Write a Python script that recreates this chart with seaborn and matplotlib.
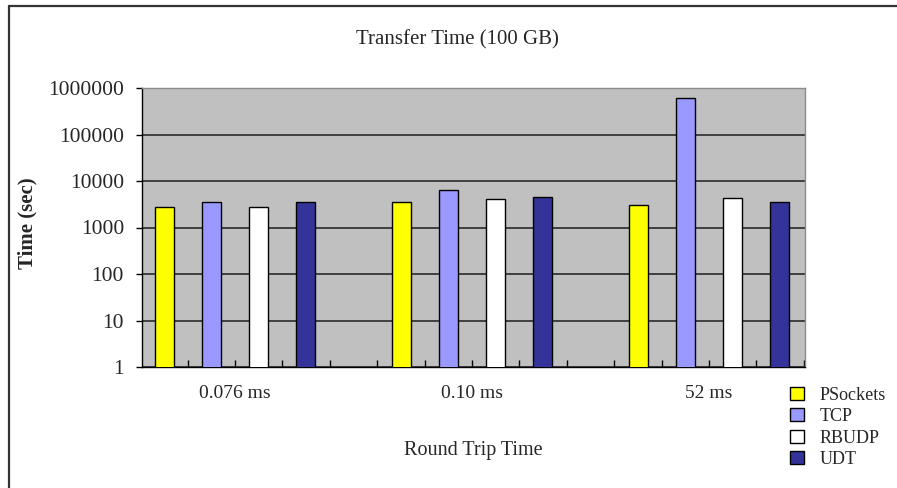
import matplotlib
matplotlib.use("Agg")
import matplotlib.pyplot as plt
from matplotlib.lines import Line2D
import seaborn as sns
import pandas as pd
import numpy as np

rtt = ["0.076 ms", "0.10 ms", "52 ms"]
protocols = ["PSockets", "TCP", "RBUDP", "UDT"]
psockets = [2700, 3600, 3050]
tcp = [3600, 6400, 600000]
rbudp = [2700, 4200, 4250]
udt = [3600, 4450, 3600]
colors = ["#FFFF00", "#9999FF", "#FFFFFF", "#333399"]
yticks = [1, 10, 100, 1000, 10000, 100000, 1000000]

rows = []
for name, vals in zip(protocols, [psockets, tcp, rbudp, udt]):
    for r, v in zip(rtt, vals):
        rows.append({"RTT": r, "Protocol": name, "Time": v})
df = pd.DataFrame(rows)

sns.set_style("white")
plt.rcParams["font.family"] = ["Liberation Serif", "DejaVu Serif"]

W, H = 897, 488
fig = plt.figure(figsize=(W / 100, H / 100), dpi=100)
ax = fig.add_axes([142 / W, 1 - 367 / H, 663 / W, 279 / H])
ax.set_facecolor("#C0C0C0")

sns.barplot(data=df, x="RTT", y="Time", hue="Protocol", order=rtt,
            hue_order=protocols, palette=colors, width=0.793, gap=0.6,
            edgecolor="black", linewidth=1.0, saturation=1, ax=ax,
            legend=False, zorder=3)
ax.set_yscale("log")
ax.set_ylim(1, 1e6)
ax.set_xlim(-0.392, 2.405)

ax.set_yticks(yticks)
ax.set_yticklabels([str(t) for t in yticks], fontsize=15.5)
ax.yaxis.set_minor_locator(matplotlib.ticker.NullLocator())
ax.tick_params(axis="y", which="major", direction="out", length=4,
               width=1, color="black", pad=9, left=True)
ax.grid(axis="y", which="major", color="#2a2a2a", linewidth=1.2, zorder=1)
ax.set_axisbelow(True)

ax.set_xticks(range(len(rtt)))
ax.set_xticklabels(rtt, fontsize=14)
ax.set_xticks(np.arange(-0.2, 2.41, 0.2), minor=True)
ax.tick_params(axis="x", which="both", direction="in", length=5,
               width=1, color="black", pad=13, bottom=True)

for s in ["left", "bottom"]:
    ax.spines[s].set_color("black")
    ax.spines[s].set_linewidth(1.0)
for s in ["top", "right"]:
    ax.spines[s].set_color("#8c8c8c")
    ax.spines[s].set_linewidth(1.0)

ax.set_xlabel("Round Trip Time", fontsize=14.5)
ax.xaxis.set_label_coords(0.499, -0.265)
ax.set_ylabel("Time (sec)", fontsize=15, fontweight="bold")
ax.yaxis.set_label_coords(-0.157, 0.516)

fig.text(457 / W, 1 - 40 / H, "Transfer Time (100 GB)", ha="center",
         va="center", fontsize=15)

handles = [matplotlib.patches.Patch(facecolor=c, edgecolor="black",
                                    linewidth=1.0) for c in colors]
fig.legend(handles, protocols, loc="upper left",
           bbox_to_anchor=(777 / W, 1 - 374 / H), frameon=False,
           fontsize=13, handlelength=0.8, handleheight=0.75,
           handletextpad=0.85, labelspacing=0.25, borderpad=0.2)

fig.add_artist(Line2D([8.5 / W, 8.5 / W], [0, 1 - 6 / H],
                      transform=fig.transFigure, color="#333333", lw=1.6))
fig.add_artist(Line2D([8.5 / W, 1], [1 - 6 / H, 1 - 6 / H],
                      transform=fig.transFigure, color="#333333", lw=1.6))

fig.savefig("out.png", dpi=100, facecolor="white")
